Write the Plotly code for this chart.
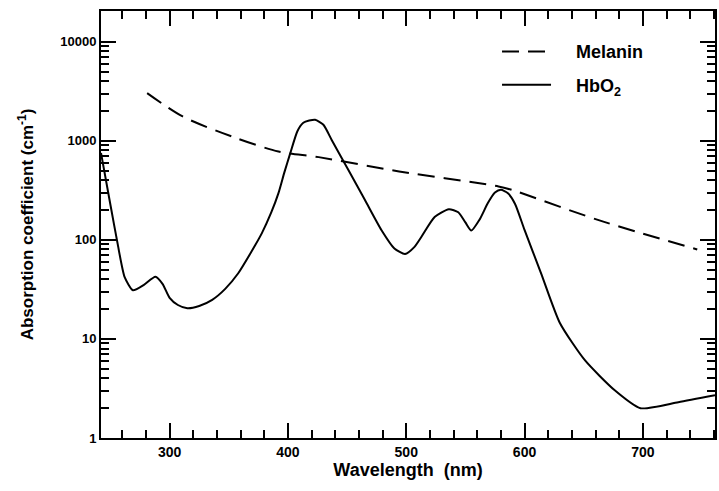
import plotly.graph_objects as go

# HbO2 absorption coefficient (cm^-1)
hbo2_nm = [242, 250, 256, 262, 269, 278, 288, 294, 300, 307, 315, 325, 336, 347, 358, 368, 378, 386, 392, 397, 402, 408,
           413, 418, 423, 430, 437, 451, 465, 479, 490, 499, 507, 513, 524, 536, 544, 550, 555, 562, 569, 575, 580, 586,
           592, 600, 614, 630, 651, 676, 698, 730, 761]
hbo2_val = [755, 225, 92, 42, 31, 35, 42.5, 36, 26, 22, 20.4, 21.5, 24.8, 32, 46, 72, 117, 190, 296, 480, 751, 1250,
            1520, 1600, 1630, 1450, 1020, 510, 254, 126, 82, 72, 85, 108, 170, 204, 190, 150, 124, 160, 235, 300, 320, 295,
            230, 126, 46, 14.4, 6.1, 3.05, 2.0, 2.3, 2.7]

# Melanin absorption coefficient (cm^-1)
mel_nm = [281, 311, 353, 392, 426, 494, 578, 589, 662, 746]
mel_val = [3030, 1760, 1100, 780, 684, 490, 346, 320, 159, 80]

x_ticks = [300, 400, 500, 600, 700]
y_ticks = [1, 10, 100, 1000, 10000]
y_tick_text = ["1", "10", "100", "1000", "10000"]
y_minor = [m * 10 ** e for e in range(0, 5) for m in range(2, 10)]

FONT = "Liberation Sans, Arial, sans-serif"
NB = "\u00a0" * 4

fig = go.Figure()
fig.add_trace(go.Scatter(
    x=mel_nm, y=mel_val, mode="lines", name=f"<b>{NB}Melanin</b>",
    line=dict(color="black", width=2, dash="17px,9px", shape="spline", smoothing=0.8),
    legendgroup="a",
))
fig.add_trace(go.Scatter(
    x=hbo2_nm, y=hbo2_val, mode="lines", name=f"<b>{NB}HbO<sub>2</sub></b>",
    line=dict(color="black", width=2, shape="spline", smoothing=0.6),
    legendgroup="b",
))

fig.update_layout(
    width=719, height=491,
    margin=dict(l=101, r=2, t=11, b=53),
    paper_bgcolor="white", plot_bgcolor="white",
    font=dict(family=FONT, color="black", size=13),
    showlegend=True,
    legend=dict(x=0.645, y=0.948, xanchor="left", yanchor="top", bgcolor="rgba(0,0,0,0)",
                font=dict(size=18, family=FONT), tracegroupgap=7, itemwidth=49),
    xaxis=dict(
        range=[242, 761], tickmode="array", tickvals=x_ticks, ticktext=[f"<b>{v}</b>" for v in x_ticks],
        ticks="inside", ticklen=15, tickwidth=1.5, tickcolor="black",
        minor=dict(tickmode="linear", dtick=20, tick0=0, ticks="inside", ticklen=8, tickwidth=1.5,
                   tickcolor="black", showgrid=False),
        showline=True, linecolor="black", linewidth=2, mirror="ticks",
        showgrid=False, zeroline=False,
        tickfont=dict(size=14),
        title=dict(text="<b>Wavelength  (nm)</b>", font=dict(size=18), standoff=4),
    ),
    yaxis=dict(
        type="log", range=[0, 4.31], tickmode="array", tickvals=y_ticks,
        ticktext=[f"<b>{t}</b>" for t in y_tick_text],
        ticks="inside", ticklen=15, tickwidth=1.5, tickcolor="black",
        minor=dict(tickmode="array", tickvals=y_minor, ticks="inside", ticklen=8, tickwidth=1.5,
                   tickcolor="black", showgrid=False),
        showline=True, linecolor="black", linewidth=2, mirror="ticks",
        showgrid=False, zeroline=False,
        tickfont=dict(size=13),
        title=dict(text="<b>Absorption coefficient (cm<sup>-1</sup>)</b>", font=dict(size=17), standoff=22),
    ),
)

fig.write_html("out.html")
